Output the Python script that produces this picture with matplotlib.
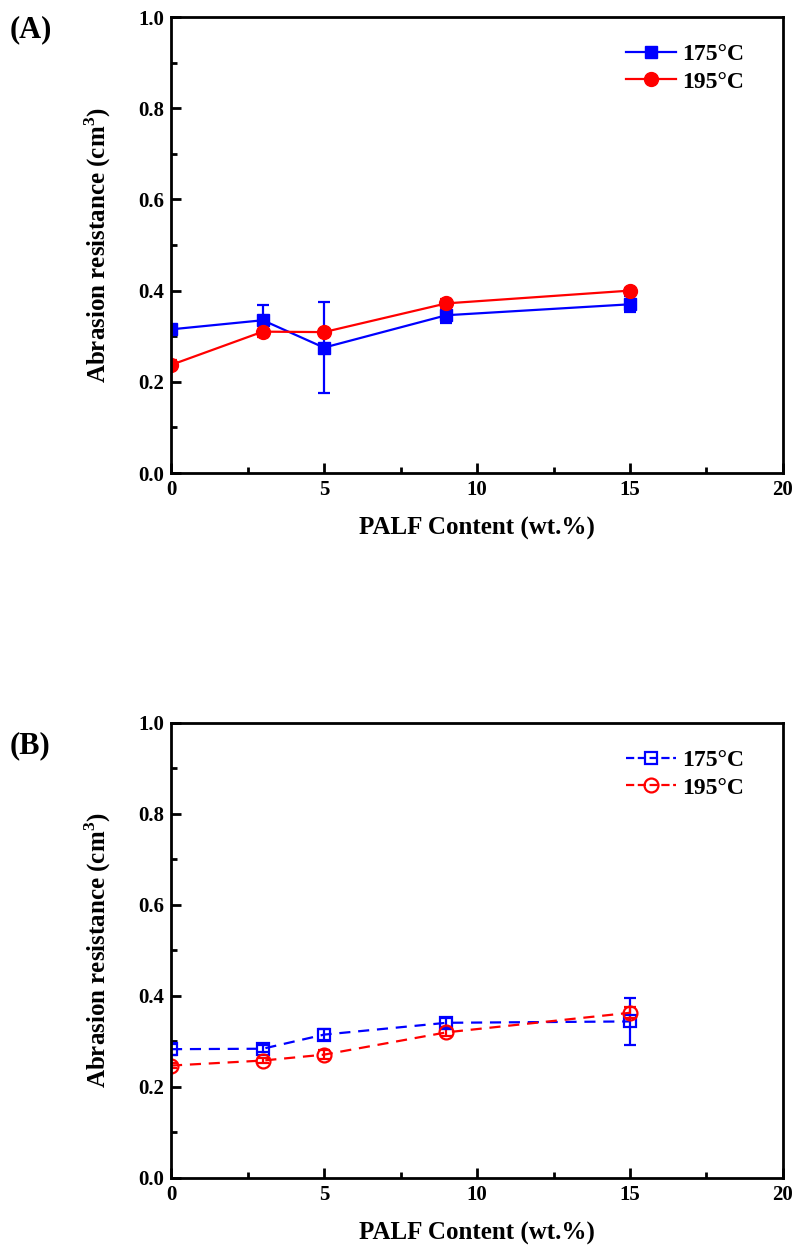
import numpy as np
import matplotlib.pyplot as plt
from matplotlib.ticker import MultipleLocator
from matplotlib.lines import Line2D

plt.rcParams['font.family'] = ['Liberation Serif', 'DejaVu Serif']
plt.rcParams['font.weight'] = 'bold'
plt.rcParams['mathtext.fontset'] = 'custom'
plt.rcParams['mathtext.rm'] = 'Liberation Serif:bold'
plt.rcParams['mathtext.bf'] = 'Liberation Serif:bold'

palf = [0, 3, 5, 9, 15]

# panel A
a175 = [0.315, 0.335, 0.275, 0.346, 0.370]
a175_err = [0.006, 0.033, 0.099, 0.018, 0.018]
a195 = [0.237, 0.310, 0.309, 0.372, 0.400]
a195_err = [0.010, 0.012, 0.004, 0.010, 0.005]

# panel B
b175 = [0.283, 0.284, 0.315, 0.341, 0.344]
b175_err = [0.012, 0.008, 0.012, 0.010, 0.052]
b195 = [0.247, 0.258, 0.271, 0.320, 0.363]
b195_err = [0.006, 0.005, 0.010, 0.008, 0.012]

fig = plt.figure(figsize=(7.98, 12.51), dpi=100)
axA = fig.add_axes([0.2143, 0.6219, 0.7669, 0.3645])
axB = fig.add_axes([0.2143, 0.0584, 0.7669, 0.3637])


def style_axis(ax):
    ax.set_xlim(0, 20)
    ax.set_ylim(0, 1.0)
    ax.xaxis.set_major_locator(MultipleLocator(5))
    ax.xaxis.set_minor_locator(MultipleLocator(2.5))
    ax.yaxis.set_major_locator(MultipleLocator(0.2))
    ax.yaxis.set_minor_locator(MultipleLocator(0.1))
    ax.tick_params(which='both', direction='in', width=2, labelsize=15)
    ax.tick_params(which='major', length=7, pad=5)
    ax.tick_params(which='minor', length=4)
    for s in ax.spines.values():
        s.set_linewidth(2)
    ax.set_xlabel('PALF Content (wt.%)', fontsize=18, fontweight='bold', labelpad=12)
    ax.set_ylabel('Abrasion resistance (cm$^\\mathbf{3}$)', fontsize=18,
                  fontweight='bold', labelpad=18)


def add_legend(ax, lines):
    handles = [Line2D([], [], color=l.get_color(), ls=l.get_linestyle(),
                      lw=l.get_linewidth(), marker=l.get_marker(),
                      ms=l.get_markersize(), mfc=l.get_markerfacecolor(),
                      mew=l.get_markeredgewidth()) for l in lines]
    ax.legend(handles, ['175°C', '195°C'], loc='upper right', frameon=False,
              fontsize=17, handlelength=2.1, handletextpad=0.3,
              labelspacing=0.25, bbox_to_anchor=(0.972, 0.988))


# (A) solid lines, filled markers
e1 = axA.errorbar(palf, a175, yerr=a175_err, color='#0000ff', marker='s', ms=9,
                  lw=1.6, elinewidth=1.6, capsize=4, capthick=1.6)
e2 = axA.errorbar(palf, a195, yerr=a195_err, color='#ff0000', marker='o', ms=10,
                  lw=1.6, elinewidth=1.6, capsize=4, capthick=1.6)
style_axis(axA)
add_legend(axA, [e1[0], e2[0]])

# (B) dashed lines, open markers
e3 = axB.errorbar(palf, b175, yerr=b175_err, color='#0000ff', marker='s', ms=9,
                  mfc='none', mew=1.6, ls=(0, (5, 3.5)), lw=1.6, elinewidth=1.6,
                  capsize=4, capthick=1.6)
e4 = axB.errorbar(palf, b195, yerr=b195_err, color='#ff0000', marker='o', ms=10,
                  mfc='none', mew=1.6, ls=(0, (5, 3.5)), lw=1.6, elinewidth=1.6,
                  capsize=4, capthick=1.6)
style_axis(axB)
add_legend(axB, [e3[0], e4[0]])

fig.text(0.012, 0.976, '(A)', fontsize=22, fontweight='bold', va='center')
fig.text(0.012, 0.404, '(B)', fontsize=22, fontweight='bold', va='center')

fig.savefig('out.png', dpi=100)
